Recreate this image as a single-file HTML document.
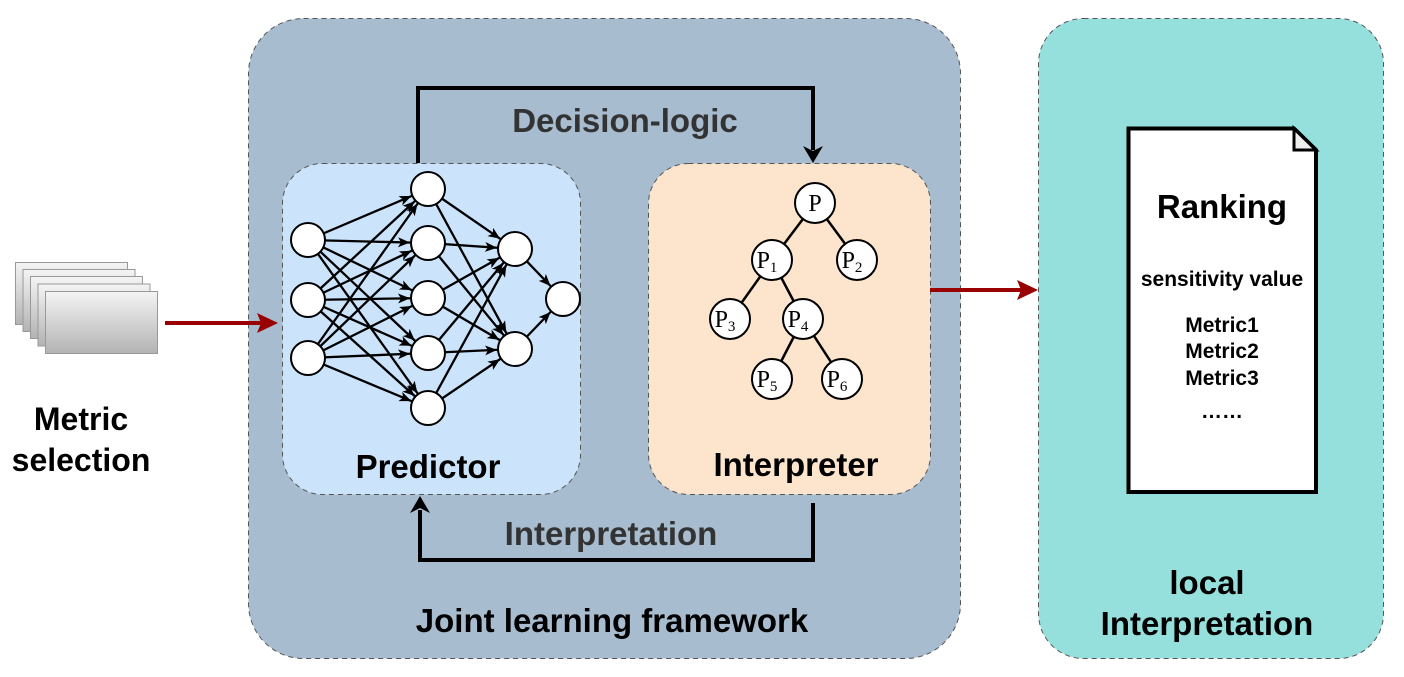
<!DOCTYPE html>
<html><head><meta charset="utf-8"><style>
body{margin:0;background:#fff}
svg{display:block;font-family:"Liberation Sans",sans-serif}
</style></head><body>
<svg width="1404" height="677" viewBox="0 0 1404 677" xmlns="http://www.w3.org/2000/svg">
<defs>
<linearGradient id="g" x1="0" y1="0" x2="0" y2="1"><stop offset="0" stop-color="#f4f4f4"/><stop offset="1" stop-color="#b3b3b3"/></linearGradient>
<marker id="m" markerUnits="userSpaceOnUse" markerWidth="30" markerHeight="12" refX="30" refY="5" orient="auto"><path d="M0,0 L12,5 L0,10 L3,5 z" fill="#000"/></marker>
</defs>
<rect x="248.5" y="18.5" width="712" height="640" rx="55" fill="#a7bccf" stroke="#555" stroke-dasharray="5,4"/>
<rect x="1038.5" y="18.5" width="345" height="640" rx="45" fill="#95e0dc" stroke="#555" stroke-dasharray="5,4"/>
<rect x="282.5" y="163.5" width="298" height="331" rx="40" fill="#cce4fb" stroke="#555" stroke-dasharray="5,4"/>
<rect x="648.5" y="163.5" width="282" height="331" rx="40" fill="#fde4cc" stroke="#555" stroke-dasharray="5,4"/>
<g stroke="#999" fill="url(#g)">
<rect x="15.5" y="262.5" width="112" height="62"/>
<rect x="23" y="269.5" width="112" height="62"/>
<rect x="30.5" y="276.5" width="112" height="62"/>
<rect x="38" y="284" width="112" height="62"/>
<rect x="45.5" y="291.5" width="112" height="62"/>
</g>
<g stroke="#990000" stroke-width="4" fill="#990000">
<line x1="165" y1="323" x2="262" y2="323"/><path d="M257,313 L278,323 L257,333 L261,323z" stroke="none"/>
<line x1="930" y1="290" x2="1022" y2="290"/><path d="M1017,280 L1038,290 L1017,300 L1021,290z" stroke="none"/>
</g>
<g stroke="#000" stroke-width="4" fill="none">
<polyline points="418,163 418,88 813,88 813,150"/>
<polyline points="813,503 813,560 420,560 420,510"/>
</g>
<path d="M803,146 L813,163 L823,146 L813,151z"/>
<path d="M410,513 L420,496 L430,513 L420,508z"/>
<text x="625" y="132" text-anchor="middle" font-size="33" font-weight="bold" fill="#333">Decision-logic</text>
<text x="611" y="545" text-anchor="middle" font-size="33" font-weight="bold" fill="#333">Interpretation</text>
<g stroke="#000" stroke-width="2.3" marker-end="url(#m)">
<line x1="308" y1="240" x2="428" y2="189"/><line x1="308" y1="240" x2="428" y2="243"/><line x1="308" y1="240" x2="428" y2="298"/><line x1="308" y1="240" x2="428" y2="353"/><line x1="308" y1="240" x2="428" y2="408"/>
<line x1="308" y1="300" x2="428" y2="189"/><line x1="308" y1="300" x2="428" y2="243"/><line x1="308" y1="300" x2="428" y2="298"/><line x1="308" y1="300" x2="428" y2="353"/><line x1="308" y1="300" x2="428" y2="408"/>
<line x1="308" y1="358" x2="428" y2="189"/><line x1="308" y1="358" x2="428" y2="243"/><line x1="308" y1="358" x2="428" y2="298"/><line x1="308" y1="358" x2="428" y2="353"/><line x1="308" y1="358" x2="428" y2="408"/>
<line x1="428" y1="189" x2="515" y2="249"/><line x1="428" y1="189" x2="515" y2="349"/>
<line x1="428" y1="243" x2="515" y2="249"/><line x1="428" y1="243" x2="515" y2="349"/>
<line x1="428" y1="298" x2="515" y2="249"/><line x1="428" y1="298" x2="515" y2="349"/>
<line x1="428" y1="353" x2="515" y2="249"/><line x1="428" y1="353" x2="515" y2="349"/>
<line x1="428" y1="408" x2="515" y2="249"/><line x1="428" y1="408" x2="515" y2="349"/>
<line x1="515" y1="249" x2="563" y2="299"/><line x1="515" y1="349" x2="563" y2="299"/>
</g>
<g fill="#fff" stroke="#000" stroke-width="2">
<circle cx="308" cy="240" r="17"/><circle cx="308" cy="300" r="17"/><circle cx="308" cy="358" r="17"/>
<circle cx="428" cy="189" r="17"/><circle cx="428" cy="243" r="17"/><circle cx="428" cy="298" r="17"/><circle cx="428" cy="353" r="17"/><circle cx="428" cy="408" r="17"/>
<circle cx="515" cy="249" r="17"/><circle cx="515" cy="349" r="17"/><circle cx="563" cy="299" r="17"/>
</g>
<g stroke="#000" stroke-width="2.5">
<line x1="815" y1="203" x2="772" y2="260"/><line x1="815" y1="203" x2="857" y2="260"/>
<line x1="772" y1="260" x2="730" y2="319"/><line x1="772" y1="260" x2="803" y2="319"/>
<line x1="803" y1="319" x2="772" y2="379"/><line x1="803" y1="319" x2="842" y2="379"/>
</g>
<g fill="#fff" stroke="#000" stroke-width="2">
<circle cx="815" cy="203" r="20"/><circle cx="772" cy="260" r="20"/><circle cx="857" cy="260" r="20"/>
<circle cx="730" cy="319" r="20"/><circle cx="803" cy="319" r="20"/><circle cx="772" cy="379" r="20"/><circle cx="842" cy="379" r="20"/>
</g>
<g font-family="'Liberation Serif',serif" font-size="24" fill="#000">
<text x="815" y="211" text-anchor="middle">P</text>
<text x="767" y="268" text-anchor="middle">P<tspan font-size="15" dy="4">1</tspan></text>
<text x="852" y="268" text-anchor="middle">P<tspan font-size="15" dy="4">2</tspan></text>
<text x="725" y="327" text-anchor="middle">P<tspan font-size="15" dy="4">3</tspan></text>
<text x="798" y="327" text-anchor="middle">P<tspan font-size="15" dy="4">4</tspan></text>
<text x="767" y="387" text-anchor="middle">P<tspan font-size="15" dy="4">5</tspan></text>
<text x="837" y="387" text-anchor="middle">P<tspan font-size="15" dy="4">6</tspan></text>
</g>
<g font-weight="bold" fill="#000" text-anchor="middle">
<text x="428" y="478" font-size="33">Predictor</text>
<text x="796" y="476" font-size="33">Interpreter</text>
<text x="81" y="430" font-size="32">Metric</text>
<text x="81" y="471" font-size="32">selection</text>
<text x="612" y="632" font-size="33">Joint learning framework</text>
<text x="1207" y="594" font-size="33">local</text>
<text x="1207" y="635" font-size="33">Interpretation</text>
</g>
<path d="M1128.5,128.5 L1294,128.5 L1316,150 L1316,492 L1128.5,492 z" fill="#fff" stroke="#000" stroke-width="4"/>
<path d="M1294,128.5 L1294,150 L1316,150 z" fill="#eee" stroke="#000" stroke-width="3"/>
<g font-weight="bold" fill="#000" text-anchor="middle">
<text x="1222" y="218" font-size="33">Ranking</text>
<text x="1222" y="286" font-size="21">sensitivity value</text>
<text x="1222" y="332" font-size="21">Metric1</text>
<text x="1222" y="358" font-size="21">Metric2</text>
<text x="1222" y="385" font-size="21">Metric3</text>
<text x="1222" y="418" font-size="21">……</text>
</g>
</svg>
</body></html>
